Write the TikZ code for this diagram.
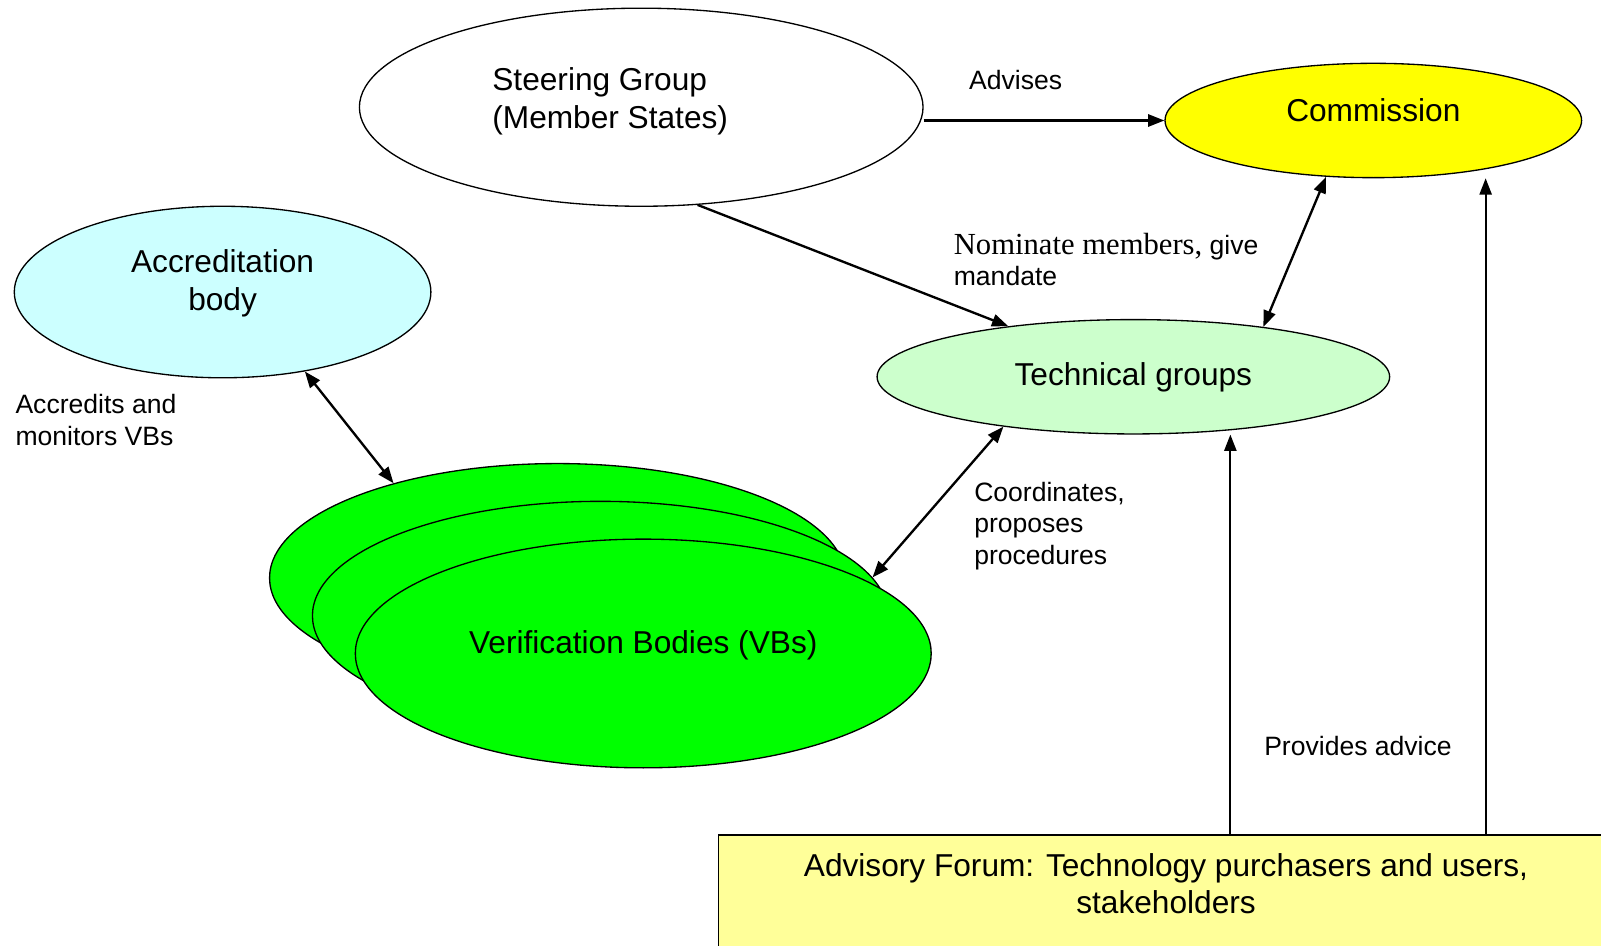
\documentclass[tikz,border=0pt]{standalone}
\usepackage{fontspec}
\setmainfont{Liberation Sans}
\newfontfamily\timesf{Liberation Serif}
\usetikzlibrary{shapes.geometric,arrows.meta}
\definecolor{commy}{RGB}{255,255,0}
\definecolor{accc}{RGB}{204,255,255}
\definecolor{techg}{RGB}{204,255,204}
\definecolor{vbg}{RGB}{0,255,0}
\definecolor{advy}{RGB}{255,255,153}
\begin{document}
\begin{tikzpicture}[x=1pt,y=-1pt,
  ell/.style={ellipse, draw=black, line width=1.3pt, inner sep=0pt},
  vbell/.style={ell, fill=vbg, minimum width=564pt, minimum height=224pt},
  bigtxt/.style={font=\fontsize{31}{37}\selectfont, inner sep=0pt},
  lbl/.style={font=\fontsize{26}{31}\selectfont, inner sep=0pt, align=left, anchor=west},
  conn/.style={line width=2.3pt, -{Triangle[length=16pt,width=12pt]}},
  bi/.style={line width=2.3pt, {Triangle[length=16pt,width=12pt]}-{Triangle[length=16pt,width=12pt]}},
  vconn/.style={line width=1.8pt, -{Triangle[length=16pt,width=12pt]}}]
\useasboundingbox (0,0) rectangle (1568,926);
\clip (0,0) rectangle (1568,926);
% ellipses
\node[ell, fill=white, minimum width=552pt, minimum height=194pt] (steer) at (628,105) {};
\node[bigtxt, align=left, anchor=west] (steertxt) at (482,99) {Steering Group\\(Member States)};
\node[ell, fill=commy, minimum width=408pt, minimum height=112pt] (comm) at (1345,118) {};
\node[bigtxt] (commtxt) at (1345,108) {Commission};
\node[ell, fill=accc, minimum width=408pt, minimum height=168pt] (acc) at (218,286) {};
\node[bigtxt, align=center] (acctxt) at (218,277.5) {Accreditation\\body};
\node[ell, fill=techg, minimum width=502pt, minimum height=112pt] (tech) at (1110,369) {};
\node[bigtxt] (techtxt) at (1110,370) {Technical groups};
\node[vbell] (vb3) at (546,566) {};
\node[vbell] (vb2) at (588,603) {};
\node[vbell] (vb1) at (630,640) {};
\node[bigtxt] (vbtxt) at (630,632) {Verification Bodies (VBs)};
% advisory forum
\node[draw=black, fill=advy, line width=1.3pt, minimum width=878pt, minimum height=130pt, anchor=north west, inner sep=0pt] (adv) at (703,817) {};
\node[bigtxt, align=center] (advtxt) at (1142,865.5) {Advisory Forum: Technology purchasers and users,\\stakeholders};
\coordinate (advt1) at ([xshift=502pt]adv.north west);
\coordinate (advt2) at ([xshift=752pt]adv.north west);
% connectors
\draw[conn] (steer.east |- comm.west) -- (comm.west);
\draw[conn] (steer.-60) -- (tech.158);
\draw[bi] (tech.21) -- (comm.-130);
\draw[bi] (acc.-44) -- (vb3.150);
\draw[bi] (tech.-159) -- (vb2.8);
\draw[vconn] (advt1) -- (advt1 |- tech.south);
\draw[vconn] (advt2) -- (advt2 |- comm.south);
% labels
\node[lbl] (advises) at (949,78) {Advises};
\node[lbl] (nomlbl) at (934,254) {{\timesf\fontsize{30}{33}\selectfont Nominate members,} give\\mandate};
\node[lbl] (acclbl) at (15,411.5) {Accredits and\\monitors VBs};
\node[lbl] (coordlbl) at (954,515) {Coordinates,\\proposes\\procedures};
\node[lbl] (provlbl) at (1238,731) {Provides advice};
\end{tikzpicture}
\end{document}
